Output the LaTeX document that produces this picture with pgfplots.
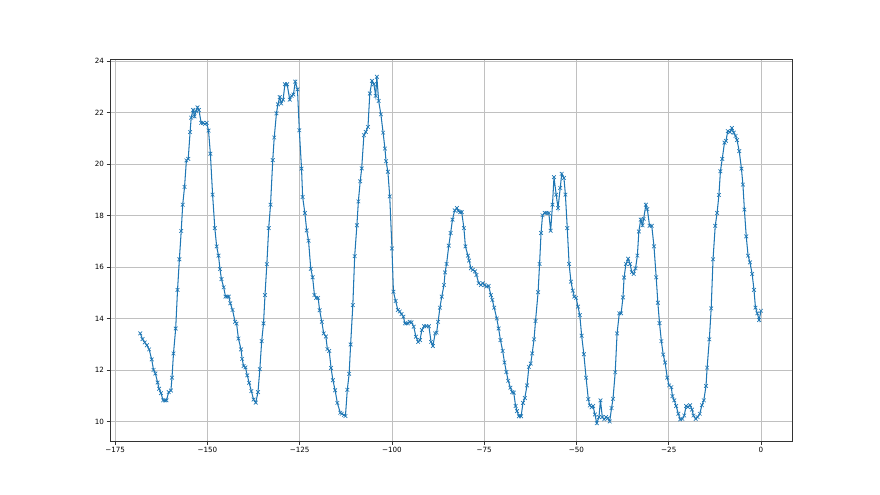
\documentclass[border=0pt]{standalone}
\usepackage{pgfplots}
\pgfplotsset{compat=1.18}
\usepackage{fontspec}
\setmainfont{DejaVu Sans}
\definecolor{mplblue}{RGB}{31,119,180}
\definecolor{mplgrid}{RGB}{192,192,192}
\begin{document}
\begin{tikzpicture}
\useasboundingbox (0,0) rectangle (880bp,495bp);
\begin{axis}[
  at={(110bp,54bp)}, anchor=south west,
  width=682bp, height=382bp, scale only axis,
  xmin=-176.4, xmax=8.4, ymin=9.24, ymax=24.08,
  xtick={-175,-150,-125,-100,-75,-50,-25,0},
  xticklabels={−175,−150,−125,−100,−75,−50,−25,0},
  ytick={10,12,14,16,18,20,22,24},
  yticklabels={10,12,14,16,18,20,22,24},
  grid=major,
  grid style={color=mplgrid, line width=0.6bp},
  axis line style={line width=0.7bp, color=black!80},
  tick style={color=black!80, line width=0.7bp},
  tick align=outside, tick pos=left,
  major tick length=3.5bp,
  ticklabel style={font=\fontsize{7.2}{8}\selectfont},
  xticklabel style={yshift=1bp},
  yticklabel style={xshift=1bp},
]
\addplot[color=mplblue, line width=1.05bp, mark=x, mark size=2.6bp, mark options={line width=0.65bp}] coordinates {
(-168.2,13.42)(-167.6,13.2)(-167.0,13.07)(-166.4,12.96)(-165.8,12.8)(-165.1,12.41)(-164.6,12.0)(-164.1,11.86)(-163.5,11.51)(-163.1,11.27)(-162.6,11.1)(-162.0,10.82)(-161.5,10.82)(-161.1,10.82)(-160.5,11.14)(-159.9,11.2)(-159.6,11.7)(-159.2,12.64)(-158.6,13.61)(-158.1,15.11)(-157.6,16.3)(-157.1,17.4)(-156.7,18.42)(-156.2,19.11)(-155.7,20.14)(-155.2,20.2)(-154.7,21.24)(-154.4,21.8)(-153.9,22.1)(-153.5,21.85)(-153.1,22.05)(-152.7,22.2)(-152.3,22.1)(-151.7,21.6)(-151.2,21.6)(-150.7,21.55)(-150.2,21.6)(-149.7,21.3)(-149.2,20.4)(-148.6,18.81)(-148.0,17.51)(-147.5,16.8)(-147.0,16.44)(-146.6,15.92)(-146.2,15.53)(-145.6,15.21)(-145.1,14.85)(-144.6,14.85)(-144.2,14.85)(-143.8,14.59)(-143.2,14.33)(-142.5,13.87)(-142.1,13.8)(-141.6,13.22)(-140.9,12.8)(-140.6,12.43)(-140.2,12.15)(-139.7,12.1)(-139.2,11.79)(-138.7,11.5)(-138.1,11.18)(-137.5,10.85)(-136.9,10.73)(-136.3,11.14)(-135.8,12.03)(-135.3,13.12)(-134.8,13.81)(-134.4,14.91)(-133.9,16.11)(-133.4,17.51)(-132.9,18.42)(-132.3,20.15)(-131.9,21.03)(-131.3,21.97)(-130.9,22.32)(-130.4,22.6)(-130.0,22.35)(-129.5,22.5)(-129.0,23.1)(-128.4,23.1)(-127.7,22.5)(-127.2,22.65)(-126.7,22.7)(-126.2,23.2)(-125.6,22.9)(-125.1,21.31)(-124.5,19.82)(-124.2,18.72)(-123.6,18.1)(-123.1,17.42)(-122.6,17.02)(-122.0,15.93)(-121.5,15.6)(-121.0,14.91)(-120.5,14.8)(-120.0,14.8)(-119.6,14.32)(-119.0,13.87)(-118.5,13.42)(-117.9,13.3)(-117.5,12.81)(-117.0,12.74)(-116.5,12.08)(-116.0,11.6)(-115.4,11.21)(-114.8,10.72)(-114.0,10.34)(-113.6,10.3)(-113.0,10.25)(-112.6,10.21)(-112.1,11.23)(-111.6,11.85)(-111.2,12.99)(-110.6,14.52)(-110.1,16.42)(-109.5,17.62)(-109.1,18.55)(-108.6,19.33)(-108.2,19.83)(-107.6,21.12)(-107.1,21.25)(-106.5,21.44)(-106.0,22.74)(-105.4,23.23)(-104.9,23.1)(-104.4,22.65)(-104.1,23.39)(-103.6,22.45)(-103.0,21.93)(-102.4,21.22)(-101.9,20.6)(-101.6,20.11)(-101.1,19.7)(-100.6,18.74)(-100.0,16.72)(-99.6,15.04)(-99.0,14.68)(-98.4,14.33)(-97.9,14.27)(-97.4,14.17)(-96.9,14.07)(-96.5,13.81)(-96.1,13.81)(-95.7,13.81)(-95.2,13.87)(-94.7,13.85)(-94.1,13.68)(-93.5,13.29)(-92.9,13.09)(-92.4,13.16)(-91.9,13.55)(-91.3,13.7)(-90.7,13.7)(-90.0,13.7)(-89.4,13.09)(-88.9,12.93)(-88.3,13.42)(-87.9,13.45)(-87.5,13.87)(-87.0,14.42)(-86.5,14.85)(-85.9,15.3)(-85.6,15.79)(-85.2,16.12)(-84.6,16.83)(-84.1,17.32)(-83.6,17.84)(-83.0,18.2)(-82.4,18.29)(-82.0,18.17)(-81.5,18.13)(-81.1,18.13)(-80.5,17.51)(-80.1,16.8)(-79.4,16.44)(-79.1,16.25)(-78.6,15.95)(-78.1,15.89)(-77.5,15.83)(-77.1,15.69)(-76.5,15.37)(-75.9,15.3)(-75.4,15.37)(-74.9,15.3)(-74.4,15.24)(-73.8,15.26)(-73.2,14.91)(-72.8,14.72)(-72.3,14.42)(-71.6,14.0)(-71.1,13.61)(-70.6,13.16)(-70.0,12.74)(-69.5,12.29)(-69.0,11.92)(-68.5,11.58)(-67.9,11.31)(-67.4,11.14)(-67.0,11.12)(-66.5,10.6)(-66.1,10.4)(-65.6,10.2)(-65.0,10.2)(-64.5,10.72)(-64.0,10.91)(-63.4,11.4)(-62.9,12.12)(-62.4,12.25)(-62.0,12.64)(-61.5,13.19)(-61.1,13.9)(-60.4,15.02)(-60.0,16.12)(-59.6,17.32)(-59.2,18.01)(-58.6,18.1)(-58.1,18.1)(-57.5,18.1)(-57.0,17.41)(-56.5,18.42)(-56.1,19.49)(-55.5,18.81)(-55.0,18.29)(-54.4,19.07)(-54.0,19.62)(-53.4,19.46)(-53.0,18.81)(-52.5,17.51)(-52.0,16.12)(-51.5,15.43)(-51.0,15.08)(-50.6,14.85)(-50.1,14.8)(-49.6,14.46)(-49.1,14.13)(-48.6,13.33)(-48.0,12.61)(-47.4,11.7)(-46.8,10.87)(-46.4,10.62)(-45.9,10.55)(-45.5,10.6)(-45.0,10.27)(-44.5,9.93)(-43.9,10.17)(-43.5,10.82)(-43.0,10.17)(-42.5,10.08)(-42.0,10.17)(-41.5,10.12)(-41.0,10.0)(-40.5,10.52)(-40.1,10.88)(-39.5,11.91)(-39.0,13.42)(-38.4,14.2)(-37.9,14.2)(-37.4,14.82)(-37.1,15.59)(-36.6,16.12)(-36.0,16.32)(-35.5,16.12)(-35.0,15.8)(-34.5,15.73)(-34.0,15.95)(-33.5,16.44)(-33.1,17.38)(-32.6,17.84)(-32.1,17.62)(-31.8,17.87)(-31.2,18.42)(-30.8,18.25)(-30.2,17.6)(-29.6,17.6)(-29.0,16.8)(-28.4,15.6)(-27.95,14.61)(-27.5,13.82)(-27.0,13.12)(-26.5,12.6)(-26.0,12.29)(-25.4,11.7)(-24.9,11.4)(-24.3,11.33)(-24.0,10.98)(-23.5,10.82)(-23.0,10.6)(-22.4,10.3)(-21.9,10.08)(-21.3,10.1)(-20.8,10.23)(-20.3,10.6)(-19.8,10.56)(-19.2,10.63)(-18.7,10.46)(-18.3,10.23)(-17.7,10.1)(-17.2,10.17)(-16.6,10.3)(-16.0,10.63)(-15.5,10.82)(-14.9,11.38)(-14.6,12.09)(-14.0,13.19)(-13.5,14.39)(-13.0,16.3)(-12.4,17.6)(-11.9,18.1)(-11.4,18.8)(-11.0,19.72)(-10.5,20.2)(-9.9,20.83)(-9.5,20.9)(-9.0,21.28)(-8.4,21.24)(-7.9,21.4)(-7.4,21.22)(-6.9,21.09)(-6.5,20.93)(-5.9,20.5)(-5.3,19.82)(-4.9,19.2)(-4.5,18.23)(-4.0,17.19)(-3.5,16.44)(-3.0,16.18)(-2.4,15.73)(-1.9,15.11)(-1.5,14.42)(-1.0,14.2)(-0.5,13.94)(0.0,14.3)
};
\end{axis}
\end{tikzpicture}
\end{document}
